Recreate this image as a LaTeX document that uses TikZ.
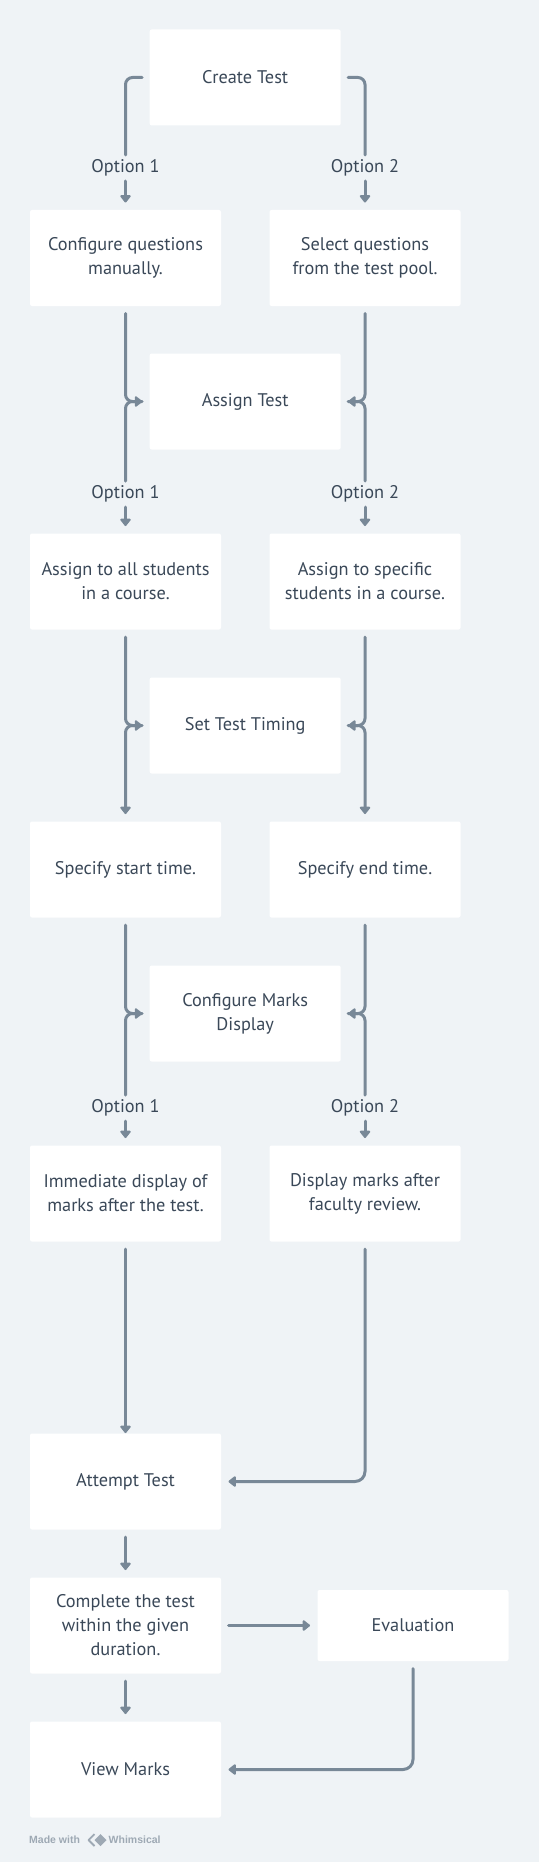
\documentclass[tikz,border=0pt]{standalone}
\usepackage{fontspec}
\setmainfont{PT Sans}
\newfontfamily\wmfont{Liberation Sans}
\usetikzlibrary{arrows.meta}
\definecolor{bg}{HTML}{EFF3F6}
\definecolor{ln}{HTML}{788897}
\definecolor{tx}{HTML}{3A4858}
\definecolor{wm}{HTML}{9EA9B4}
\begin{document}
\begin{tikzpicture}[x=1pt,y=-1pt,
  box/.style={rectangle, fill=white, rounded corners=2pt, minimum width=191pt, minimum height=96pt,
    inner sep=0pt, outer sep=7.5pt, align=center, text=tx, font=\fontsize{18.3}{24}\selectfont},
  optlabel/.style={minimum height=26pt, inner sep=0pt, outer sep=0pt, text=tx, font=\fontsize{18.3}{20}\selectfont},
  conn/.style={draw=ln, line width=3pt, rounded corners=7pt, line cap=round},
  arr/.style={conn, -{Triangle[width=12pt,length=8pt,round]}}]
\fill[bg] (0,0) rectangle (539,1862);
\useasboundingbox (0,0) rectangle (539,1862);

% nodes
\node[box] (create) at (245.2,77.5) {Create Test};
\node[box] (config) at (125.5,258) {Configure questions\\manually.};
\node[box] (select) at (365,258) {Select questions\\from the test pool.};
\node[box] (assign) at (245.2,401.5) {Assign Test};
\node[box] (all) at (125.5,581.5) {Assign to all students\\in a course.};
\node[box] (spec) at (365,581.5) {Assign to specific\\students in a course.};
\node[box] (timing) at (245.2,725.5) {Set Test Timing};
\node[box] (start) at (125.5,869.5) {Specify start time.};
\node[box] (end) at (365,869.5) {Specify end time.};
\node[box] (marks) at (245.2,1013.5) {Configure Marks\\Display};
\node[box] (imm) at (125.5,1193.5) {Immediate display of\\marks after the test.};
\node[box] (disp) at (365,1193.5) {Display marks after\\faculty review.};
\node[box] (attempt) at (125.5,1481.5) {Attempt Test};
\node[box] (complete) at (125.5,1625.5) {Complete the test\\within the given\\duration.};
\node[box, minimum height=71pt] (eval) at (413,1625.5) {Evaluation};
\node[box] (view) at (125.5,1769.5) {View Marks};

% option labels
\node[optlabel] (o1a) at (125.5,168) {Option 1};
\node[optlabel] (o2a) at (365,168) {Option 2};
\node[optlabel] (o1b) at (125.5,494) {Option 1};
\node[optlabel] (o2b) at (365,494) {Option 2};
\node[optlabel] (o1c) at (125.5,1108) {Option 1};
\node[optlabel] (o2c) at (365,1108) {Option 2};

% create -> options
\draw[conn] (create.west) -- (o1a.north |- create.west) -- (o1a.north);
\draw[conn] (create.east) -- (o2a.north |- create.east) -- (o2a.north);
\draw[arr] (o1a.south) -- (config.north);
\draw[arr] (o2a.south) -- (select.north);

% -> assign
\draw[arr] (config.south) -- (config.south |- assign.west) -- (assign.west);
\draw[arr] (select.south) -- (select.south |- assign.east) -- (assign.east);
\draw[conn] (assign.west) -- (o1b.north |- assign.west) -- (o1b.north);
\draw[conn] (assign.east) -- (o2b.north |- assign.east) -- (o2b.north);
\draw[arr] (o1b.south) -- (all.north);
\draw[arr] (o2b.south) -- (spec.north);

% -> timing
\draw[arr] (all.south) -- (all.south |- timing.west) -- (timing.west);
\draw[arr] (spec.south) -- (spec.south |- timing.east) -- (timing.east);
\draw[arr] (timing.west) -- (start.north |- timing.west) -- (start.north);
\draw[arr] (timing.east) -- (end.north |- timing.east) -- (end.north);

% -> marks
\draw[arr] (start.south) -- (start.south |- marks.west) -- (marks.west);
\draw[arr] (end.south) -- (end.south |- marks.east) -- (marks.east);
\draw[conn] (marks.west) -- (o1c.north |- marks.west) -- (o1c.north);
\draw[conn] (marks.east) -- (o2c.north |- marks.east) -- (o2c.north);
\draw[arr] (o1c.south) -- (imm.north);
\draw[arr] (o2c.south) -- (disp.north);

% -> attempt
\draw[arr, shorten >=-7pt] (imm.south) -- (attempt.north);
\draw[arr, rounded corners=10pt] (disp.south) -- (disp.south |- attempt.east) -- (attempt.east);
\draw[arr] (attempt.south) -- (complete.north);
\draw[arr] (complete.east) -- (eval.west);
\draw[arr] (complete.south) -- (view.north);
\draw[arr, rounded corners=10pt] (eval.south) -- (eval.south |- view.east) -- (view.east);

% watermark
\node[anchor=west, inner sep=0pt, text=wm, font=\wmfont\fontsize{10.5}{12}\selectfont\bfseries] (made) at (29,1840) {Made with};
\draw[wm, line width=1.8pt, line join=round] (94.5,1834) -- (88.5,1840) -- (94.5,1846);
\fill[wm] (100.5,1834) -- (106.5,1840) -- (100.5,1846) -- (94.5,1840) -- cycle;
\node[anchor=west, inner sep=0pt, text=wm, font=\wmfont\fontsize{10.5}{12}\selectfont\bfseries] (whim) at (108.5,1840) {Whimsical};
\end{tikzpicture}
\end{document}
